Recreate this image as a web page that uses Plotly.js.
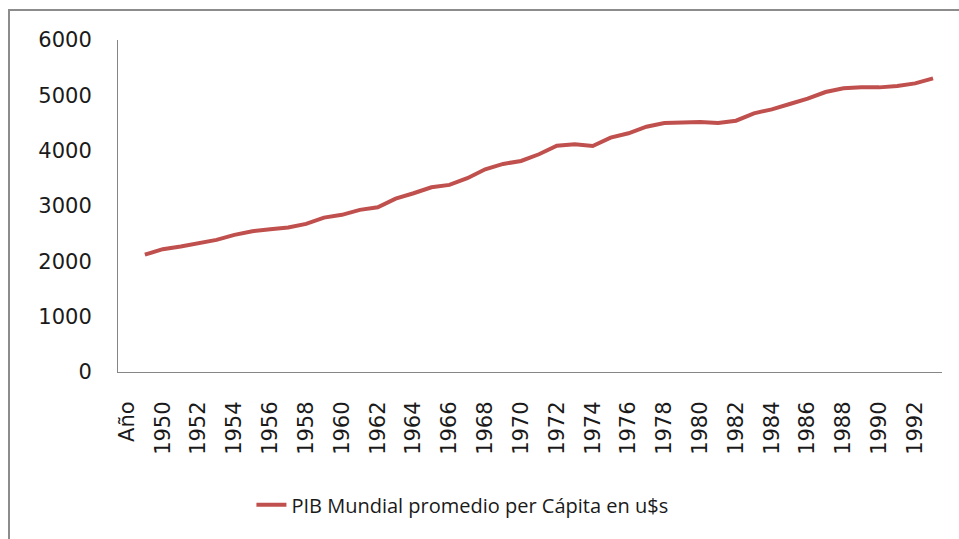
<!DOCTYPE html>
<html>
<head>
<meta charset="utf-8">
<script src="https://cdn.plot.ly/plotly-3.0.1.min.js"></script>
<style>
  html, body { margin: 0; padding: 0; background: #fff; }
  #wrap { position: relative; width: 959px; height: 539px; overflow: hidden; }
  #chart { position: absolute; left: 0; top: 0; width: 959px; height: 539px; }
  #frame { position: absolute; left: 8px; top: 9px; width: 1000px; height: 600px;
           border-left: 2px solid #8c8c8c; border-top: 2px solid #8c8c8c; pointer-events: none; }
</style>
</head>
<body>
<div id="wrap">
  <div id="chart"></div>
  <div id="frame"></div>
</div>
<script>
const categories = ["Año","1949","1950","1951","1952","1953","1954","1955","1956","1957","1958","1959",
  "1960","1961","1962","1963","1964","1965","1966","1967","1968","1969",
  "1970","1971","1972","1973","1974","1975","1976","1977","1978","1979",
  "1980","1981","1982","1983","1984","1985","1986","1987","1988","1989",
  "1990","1991","1992","1993"];
const pibPerCapita = [null, 2120, 2220, 2267, 2328, 2388, 2478, 2545, 2581, 2610, 2677, 2790,
  2840, 2930, 2978, 3134, 3231, 3339, 3381, 3502, 3664, 3760,
  3814, 3935, 4090, 4115, 4085, 4235, 4314, 4433, 4500, 4518,
  4518, 4500, 4542, 4675, 4747, 4843, 4939, 5060, 5126, 5144,
  5144, 5168, 5216, 5307];
const xTickLabels = ["Año","1950","1952","1954","1956","1958","1960","1962","1964","1966","1968",
  "1970","1972","1974","1976","1978","1980","1982","1984","1986","1988","1990","1992"];
const yTicks = [0, 1000, 2000, 3000, 4000, 5000, 6000];
const seriesName = "PIB Mundial promedio per Cápita en u$s";

const trace = {
  type: "scatter",
  mode: "lines",
  x: categories,
  y: pibPerCapita,
  name: seriesName,
  line: { color: "#C0504D", width: 4 },
  connectgaps: false,
  showlegend: true
};

const layout = {
  width: 959, height: 539,
  margin: { l: 118, r: 17, t: 40, b: 167 },
  paper_bgcolor: "#ffffff",
  plot_bgcolor: "#ffffff",
  font: { family: "DejaVu Sans", size: 21, color: "#1a1a1a" },
  xaxis: {
    type: "category",
    categoryorder: "array",
    categoryarray: categories,
    range: [-0.5, categories.length - 0.5],
    tickmode: "array",
    tickvals: xTickLabels,
    ticktext: xTickLabels,
    tickangle: -90,
    ticks: "",
    ticklabelstandoff: 20,
    showgrid: false,
    zeroline: false,
    showline: true,
    linecolor: "#868686",
    linewidth: 1,
    tickfont: { family: "DejaVu Sans", size: 21, color: "#1a1a1a" },
    fixedrange: true
  },
  yaxis: {
    range: [0, 6000],
    tickmode: "array",
    tickvals: yTicks,
    ticktext: yTicks.map(String),
    ticks: "",
    ticklabelstandoff: 21,
    showgrid: false,
    zeroline: false,
    showline: true,
    linecolor: "#868686",
    linewidth: 1,
    tickfont: { family: "DejaVu Sans", size: 21, color: "#1a1a1a" },
    fixedrange: true
  },
  showlegend: true,
  legend: {
    orientation: "h",
    x: 0.418, xanchor: "center",
    y: -0.40, yanchor: "middle",
    font: { family: "Open Sans", size: 20, color: "#1a1a1a" },
    bgcolor: "rgba(0,0,0,0)"
  }
};

Plotly.newPlot("chart", [trace], layout, { staticPlot: true, displayModeBar: false });
</script>
</body>
</html>
